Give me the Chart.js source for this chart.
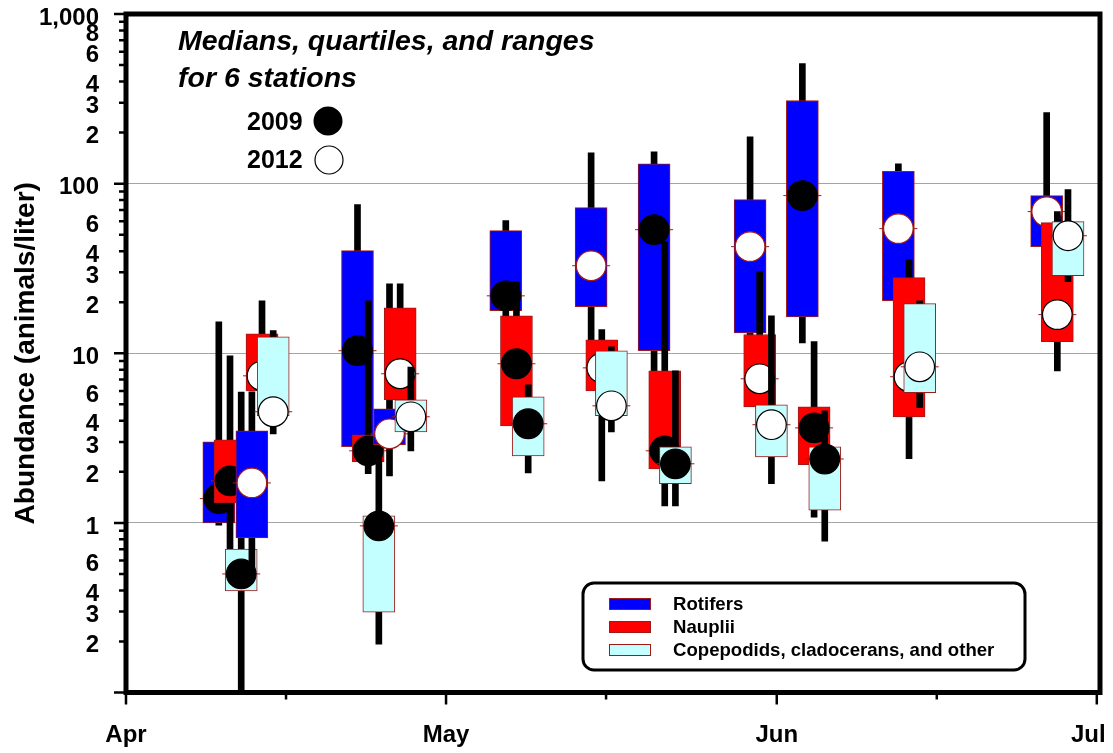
<!DOCTYPE html>
<html>
<head>
<meta charset="utf-8">
<title>Zooplankton abundance 2009 and 2012</title>
<script src="https://cdn.jsdelivr.net/npm/chart.js@4.4.1/dist/chart.umd.min.js"></script>
<style>
  html, body { margin: 0; padding: 0; background: #ffffff; }
  #wrap { width: 1113px; height: 753px; position: relative; }
</style>
</head>
<body>
<div id="wrap"><canvas id="chart"></canvas></div>
<script>
// Station summaries: x = days after April 1, values in animals per liter.
// Each taxon / year has its own arrays: range minimum, lower quartile, median, upper quartile, range maximum.

const rotifers2009Days = [8.7, 21.7, 35.6, 49.5, 63.4];
const rotifers2009Min  = [0.97, 2.5, 12, 5, 11.5];
const rotifers2009Q1   = [1.0, 2.81, 17.8, 10.35, 16.4];
const rotifers2009Med  = [1.39, 10.35, 21.8, 53.5, 85];
const rotifers2009Q3   = [3.0, 40.3, 52.8, 131, 309];
const rotifers2009Max  = [15.3, 75.2, 60.5, 154, 511];

const nauplii2009Days = [9.75, 22.7, 36.6, 50.5, 64.5];
const nauplii2009Min  = [0.55, 1.95, 3.0, 1.26, 1.08];
const nauplii2009Q1   = [1.31, 2.29, 3.73, 2.08, 2.2];
const nauplii2009Med  = [1.77, 2.66, 8.67, 2.66, 3.63];
const nauplii2009Q3   = [3.09, 3.3, 16.6, 7.88, 4.83];
const nauplii2009Max  = [9.67, 20.4, 26.4, 45.5, 11.7];

const other2009Days = [10.8, 23.7, 37.7, 51.5, 65.5];
const other2009Min  = [0.1, 0.193, 1.97, 1.26, 0.78];
const other2009Q1   = [0.397, 0.298, 2.48, 1.70, 1.19];
const other2009Med  = [0.50, 0.96, 3.84, 2.23, 2.38];
const other2009Q3   = [0.70, 1.1, 5.54, 2.81, 2.81];
const other2009Max  = [5.9, 3.5, 6.52, 7.88, 4.58];

const rotifers2012Days = [11.8, 24.7, 43.6, 58.5, 72.4, 86.3];
const rotifers2012Min  = [0.51, 1.89, 10, 10, 14, 35];
const rotifers2012Q1   = [0.816, 2.89, 18.8, 13.2, 20.4, 42.5];
const rotifers2012Med  = [1.72, 3.35, 32.8, 42.5, 54.3, 68.4];
const rotifers2012Q3   = [3.49, 4.71, 72.2, 80.5, 118, 85];
const rotifers2012Max  = [5.93, 25.7, 152, 189, 131, 262];

const nauplii2012Days = [12.75, 25.7, 44.6, 59.4, 73.4, 87.3];
const nauplii2012Min  = [5.0, 4.2, 1.77, 3.5, 2.39, 7.88];
const nauplii2012Q1   = [6.0, 5.32, 6.0, 4.83, 4.22, 11.7];
const nauplii2012Med  = [7.36, 7.57, 8.2, 7.07, 7.27, 16.9];
const nauplii2012Q3   = [13.0, 18.5, 12.0, 12.9, 27.9, 58.9];
const nauplii2012Max  = [20.4, 25.7, 13.8, 30.3, 35.6, 68.4];

const other2012Days = [13.8, 26.7, 45.5, 60.5, 74.4, 88.3];
const other2012Min  = [3.35, 2.66, 3.44, 1.70, 4.77, 26.4];
const other2012Q1   = [4.28, 3.44, 4.28, 2.45, 5.85, 28.7];
const other2012Med  = [4.52, 4.22, 4.9, 3.79, 8.32, 49.3];
const other2012Q3   = [12.5, 5.32, 10.35, 4.97, 19.6, 59.7];
const other2012Max  = [13.6, 8.3, 10.9, 16.6, 20.4, 92.2];

// Axis ticks (tick marks at month starts and mid-month; the last month label sits just inside the frame)
const monthTickDays = [0, 30, 61, 91];
const monthLabelDays = [0, 30, 61, 90.2];
const monthLabels = ['Apr', 'May', 'Jun', 'Jul'];
const midMonthTickDays = [15, 45, 76];
const decadeValues = [0.1, 1, 10, 100, 1000];
const decadeLabels = ['', '1', '10', '100', '1,000'];
const labelledMultiples = [2, 3, 4, 6];

const taxonNames = ['Rotifers', 'Nauplii', 'Copepodids, cladocerans, and other'];
const taxonColors = ['#0000ff', '#ff0000', '#c4ffff'];
const yearNames = ['2009', '2012'];

const BOX_EDGE = '#a01a1a';
const FONT = "'Liberation Sans', Arial, Helvetica, sans-serif";

Chart.defaults.font.family = FONT;
Chart.defaults.color = '#000000';

function isDecade(v) {
  const l = Math.log10(v);
  return Math.abs(l - Math.round(l)) < 1e-6;
}

// Four datasets per series: range whisker, quartile box, median tick, median marker.
function seriesDatasets(seq, taxon, year, days, mins, q1s, meds, q3s, maxs) {
  const base = 100 - 10 * seq;
  const dotFill = year === 0 ? '#000000' : '#ffffff';
  const dotEdge = year === 0 ? '#000000' : (taxon === 0 ? '#a01a1a' : '#000000');
  return [
    {
      type: 'bar', label: taxonNames[taxon] + ' ' + yearNames[year] + ' range',
      data: days.map((d, i) => ({ x: d, y: [mins[i], maxs[i]] })),
      backgroundColor: '#000000', borderWidth: 0,
      barThickness: 6, grouped: false, order: base
    },
    {
      type: 'bar', label: taxonNames[taxon] + ' ' + yearNames[year],
      data: days.map((d, i) => ({ x: d, y: [q1s[i], q3s[i]] })),
      backgroundColor: taxonColors[taxon], borderColor: BOX_EDGE,
      borderWidth: 1, borderSkipped: false,
      barThickness: 32, grouped: false, order: base - 1
    },
    {
      type: 'scatter', label: taxonNames[taxon] + ' ' + yearNames[year] + ' median line',
      data: days.map((d, i) => ({ x: d, y: meds[i] })),
      pointStyle: 'line', pointRadius: 19, pointBorderColor: BOX_EDGE,
      pointBorderWidth: 1, showLine: false, order: base - 2
    },
    {
      type: 'scatter', label: taxonNames[taxon] + ' ' + yearNames[year] + ' median',
      data: days.map((d, i) => ({ x: d, y: meds[i] })),
      pointStyle: 'circle', pointRadius: 14.8,
      pointBackgroundColor: dotFill, pointBorderColor: dotEdge,
      pointBorderWidth: 1.2, showLine: false, order: base - 3
    }
  ];
}

const datasets = [].concat(
  seriesDatasets(0, 0, 0, rotifers2009Days, rotifers2009Min, rotifers2009Q1, rotifers2009Med, rotifers2009Q3, rotifers2009Max),
  seriesDatasets(1, 1, 0, nauplii2009Days, nauplii2009Min, nauplii2009Q1, nauplii2009Med, nauplii2009Q3, nauplii2009Max),
  seriesDatasets(2, 2, 0, other2009Days, other2009Min, other2009Q1, other2009Med, other2009Q3, other2009Max),
  seriesDatasets(3, 0, 1, rotifers2012Days, rotifers2012Min, rotifers2012Q1, rotifers2012Med, rotifers2012Q3, rotifers2012Max),
  seriesDatasets(4, 1, 1, nauplii2012Days, nauplii2012Min, nauplii2012Q1, nauplii2012Med, nauplii2012Q3, nauplii2012Max),
  seriesDatasets(5, 2, 1, other2012Days, other2012Min, other2012Q1, other2012Med, other2012Q3, other2012Max)
);

// Frame, tick marks, note text and the two keys
const decorations = {
  id: 'decorations',
  afterDatasetsDraw(chart) {
    const { ctx, chartArea: a, scales: { x, y } } = chart;
    ctx.save();
    ctx.strokeStyle = '#000000';
    ctx.lineCap = 'butt';
    ctx.lineWidth = 2.5;
    ctx.beginPath();
    y.ticks.forEach(t => {
      const py = y.getPixelForValue(t.value);
      const len = isDecade(t.value) ? 12 : 7;
      ctx.moveTo(a.left - len, py);
      ctx.lineTo(a.left, py);
    });
    monthTickDays.forEach(d => {
      const px = x.getPixelForValue(d);
      ctx.moveTo(px, a.bottom);
      ctx.lineTo(px, a.bottom + 12);
    });
    midMonthTickDays.forEach(d => {
      const px = x.getPixelForValue(d);
      ctx.moveTo(px, a.bottom);
      ctx.lineTo(px, a.bottom + 7);
    });
    ctx.stroke();
    ctx.lineWidth = 5;
    ctx.lineJoin = 'miter';
    ctx.strokeRect(a.left, a.top, a.right - a.left, a.bottom - a.top);
    ctx.restore();
  },
  afterDraw(chart) {
    const { ctx } = chart;
    ctx.save();
    ctx.fillStyle = '#000000';
    ctx.textBaseline = 'alphabetic';
    ctx.textAlign = 'left';

    // Note in the upper left
    ctx.font = 'italic bold 28.5px ' + FONT;
    ctx.fillText('Medians, quartiles, and ranges', 178, 50);
    ctx.fillText('for 6 stations', 178, 87);

    // Year key
    ctx.font = 'bold 25px ' + FONT;
    ctx.fillText(yearNames[0], 247, 130);
    ctx.fillText(yearNames[1], 247, 168);
    ctx.beginPath();
    ctx.arc(328, 121, 14.5, 0, Math.PI * 2);
    ctx.fillStyle = '#000000';
    ctx.fill();
    ctx.beginPath();
    ctx.arc(329, 160, 14, 0, Math.PI * 2);
    ctx.fillStyle = '#ffffff';
    ctx.fill();
    ctx.lineWidth = 1.2;
    ctx.strokeStyle = '#000000';
    ctx.stroke();

    // Taxon key
    const bx = 583, by = 583, bw = 442, bh = 87, r = 11;
    ctx.beginPath();
    ctx.moveTo(bx + r, by);
    ctx.arcTo(bx + bw, by, bx + bw, by + bh, r);
    ctx.arcTo(bx + bw, by + bh, bx, by + bh, r);
    ctx.arcTo(bx, by + bh, bx, by, r);
    ctx.arcTo(bx, by, bx + bw, by, r);
    ctx.closePath();
    ctx.fillStyle = '#ffffff';
    ctx.fill();
    ctx.lineWidth = 3;
    ctx.strokeStyle = '#000000';
    ctx.stroke();

    ctx.font = 'bold 18.6px ' + FONT;
    ctx.textBaseline = 'middle';
    const rows = [604, 627, 650];
    taxonNames.forEach((name, i) => {
      ctx.fillStyle = taxonColors[i];
      ctx.fillRect(609, rows[i] - 6, 42, 12);
      ctx.lineWidth = 1;
      ctx.strokeStyle = BOX_EDGE;
      ctx.strokeRect(609.5, rows[i] - 5.5, 41, 11);
      ctx.fillStyle = '#000000';
      ctx.fillText(name, 673, rows[i] + 1);
    });
    ctx.restore();
  }
};

new Chart(document.getElementById('chart'), {
  type: 'bar',
  data: { datasets },
  plugins: [decorations],
  options: {
    responsive: true,
    maintainAspectRatio: false,
    animation: false,
    events: [],
    layout: { autoPadding: false, padding: { top: 14, right: 13, left: 0, bottom: 0 } },
    plugins: {
      legend: { display: false },
      tooltip: { enabled: false },
      title: { display: false }
    },
    scales: {
      x: {
        type: 'linear',
        min: 0,
        max: 91.3,
        offset: false,
        grid: { display: false, drawTicks: false, offset: false },
        border: { display: false },
        afterBuildTicks: (scale) => {
          scale.ticks = monthLabelDays.map(v => ({ value: v }));
        },
        afterFit: (scale) => {
          scale.height = 60.5;
          scale.paddingLeft = 0;
          scale.paddingRight = 0;
        },
        ticks: {
          autoSkip: false,
          maxRotation: 0,
          padding: 28,
          font: { size: 24, weight: 'bold' },
          callback: (v) => {
            const k = monthLabelDays.indexOf(v);
            return k >= 0 ? monthLabels[k] : '';
          }
        }
      },
      y: {
        type: 'logarithmic',
        min: 0.1,
        max: 1000,
        grid: {
          drawTicks: false,
          lineWidth: 1,
          color: (c) => (c.tick && isDecade(c.tick.value) ? '#a4a4a4' : 'rgba(0,0,0,0)')
        },
        border: { display: false },
        afterBuildTicks: (scale) => {
          const vals = [];
          for (let e = -1; e <= 2; e++) {
            for (let m = 1; m <= 9; m++) {
              vals.push(parseFloat((m * Math.pow(10, e)).toPrecision(6)));
            }
          }
          vals.push(1000);
          scale.ticks = vals.map(v => ({ value: v }));
        },
        afterFit: (scale) => {
          scale.width = 126;
          scale.paddingTop = 0;
          scale.paddingBottom = 0;
        },
        title: {
          display: true,
          text: 'Abundance (animals/liter)',
          font: { size: 28, weight: 'bold' },
          padding: { top: 9, bottom: 0 }
        },
        ticks: {
          autoSkip: false,
          padding: 27,
          labelOffset: 4,
          font: { size: 24, weight: 'bold' },
          callback: (v) => {
            const e = Math.floor(Math.log10(v) + 1e-9);
            const m = Math.round(v / Math.pow(10, e));
            if (m === 1) {
              const k = decadeValues.findIndex(d => Math.abs(d - v) < 1e-9);
              return k >= 0 ? decadeLabels[k] : '';
            }
            if (labelledMultiples.includes(m)) return String(m);
            if (m === 8 && e === 2) return '8';
            return '';
          }
        }
      }
    }
  }
});
</script>
</body>
</html>
